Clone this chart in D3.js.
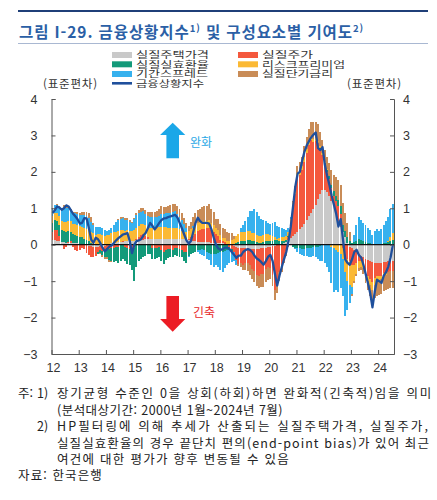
<!DOCTYPE html>
<html lang="ko">
<head>
<meta charset="utf-8">
<script src="https://cdn.jsdelivr.net/npm/d3@7"></script>
<style>
  body { margin: 0; background: #fff; }
  svg { display: block; font-family: "Noto Sans CJK KR", "Noto Sans", sans-serif; }
  .axis text { font-family: "Liberation Sans", Arial, sans-serif; font-size: 12.5px; fill: #333; }
  .axis path, .axis line { stroke: #555; }
</style>
</head>
<body>
<svg id="canvas" width="437" height="500"></svg>
<script>
// monthly data, 2012.1 ~ 2024.7
let months = d3.range(151);
let yearLabels = ['12', '13', '14', '15', '16', '17', '18', '19', '20', '21', '22', '23', '24'];
let yTicks = [-3, -2, -1, 0, 1, 2, 3, 4];

let seriesNames = ['실질주택가격', '실질주가', '실질실효환율', '리스크프리미엄', '기간스프레드', '실질단기금리'];
let seriesColors = ['#c9c9c9', '#f4583d', '#139a7a', '#fbb934', '#36b1ee', '#c98c57'];

let housePrice = [
  0.12, 0.12, 0.1, 0.1, 0.08, 0.08, 0.06, 0.06, 0.05, 0.05, 0.04, 0.04,
  0.03, 0.02, 0.0, -0.02, -0.03, -0.04, -0.05, -0.05, -0.05, -0.04, -0.04, -0.04,
  0.02, 0.03, 0.04, 0.05, 0.06, 0.07, 0.08, 0.08, 0.09, 0.1, 0.1, 0.1,
  0.1, 0.12, 0.12, 0.13, 0.14, 0.15, 0.15, 0.15, 0.15, 0.15, 0.15, 0.15,
  0.15, 0.15, 0.15, 0.15, 0.16, 0.16, 0.17, 0.17, 0.17, 0.16, 0.16, 0.15,
  0.12, 0.1, 0.1, 0.1, 0.08, 0.08, 0.08, 0.08, 0.07, 0.07, 0.06, 0.06,
  0.05, 0.05, 0.04, 0.04, 0.03, 0.02, 0.0, -0.02, -0.04, -0.06, -0.08, -0.1,
  -0.1, -0.1, -0.1, -0.12, -0.12, -0.12, -0.12, -0.12, -0.1, -0.1, -0.08, -0.06,
  -0.05, -0.04, -0.03, -0.02, 0.0, 0.02, 0.05, 0.08, 0.12, 0.18, 0.24, 0.3,
  0.36, 0.42, 0.5, 0.58, 0.68, 0.78, 0.88, 0.98, 1.1, 1.25, 1.4, 1.5,
  1.5, 1.45, 1.35, 1.2, 1.05, 0.85, 0.65, 0.5, 0.35, 0.2, 0.05, -0.05,
  -0.1, -0.15, -0.2, -0.25, -0.3, -0.35, -0.4, -0.42, -0.45, -0.48, -0.5, -0.5,
  -0.5, -0.5, -0.48, -0.48, -0.46, -0.45, -0.45
];
let stockPrice = [
  0.22, 0.28, 0.3, 0.15, 0.0, -0.12, -0.05, 0.02, 0.05, -0.05, -0.15, -0.18,
  -0.15, -0.1, -0.12, -0.2, -0.25, -0.3, -0.28, -0.25, -0.15, -0.1, -0.12, -0.15,
  -0.1, -0.12, -0.1, -0.08, -0.05, -0.05, 0.0, 0.02, -0.05, -0.1, -0.12, -0.15,
  -0.1, 0.05, 0.1, 0.15, 0.15, 0.1, 0.05, 0.0, -0.1, -0.1, -0.08, -0.05,
  -0.15, -0.2, -0.15, -0.12, -0.12, -0.15, -0.1, -0.1, -0.12, -0.15, -0.2, -0.2,
  0.05, 0.1, 0.15, 0.2, 0.3, 0.32, 0.35, 0.35, 0.38, 0.4, 0.35, 0.3,
  0.25, 0.2, 0.1, 0.05, 0.05, 0.0, -0.05, -0.1, -0.15, -0.35, -0.45, -0.4,
  -0.45, -0.4, -0.4, -0.45, -0.55, -0.6, -0.7, -0.75, -0.7, -0.7, -0.6, -0.55,
  -0.6, -0.8, -1.2, -1.0, -0.75, -0.55, -0.35, -0.2, 0.1, 0.4, 0.8, 1.1,
  1.45, 1.5, 1.55, 1.7, 1.85, 1.95, 2.0, 1.85, 1.75, 1.55, 1.25, 0.95,
  0.7, 0.55, 0.45, 0.35, 0.3, 0.35, 0.4, 0.35, -0.1, -0.3, -0.4, -0.4,
  -0.45, -0.4, -0.3, -0.2, -0.15, -0.2, -0.35, -0.45, -0.5, -0.55, -0.4, -0.35,
  -0.35, -0.35, -0.3, -0.3, -0.3, -0.28, -0.28
];
let exchangeRate = [
  0.25, 0.28, 0.25, 0.3, 0.32, 0.3, 0.28, 0.3, 0.26, 0.25, 0.22, 0.2,
  0.18, 0.18, 0.15, 0.12, 0.1, 0.05, 0.02, 0.0, -0.05, -0.08, -0.12, -0.15,
  -0.25, -0.3, -0.35, -0.4, -0.4, -0.45, -0.45, -0.4, -0.4, -0.42, -0.45, -0.55,
  -0.9, -0.6, -0.45, -0.4, -0.35, -0.3, -0.25, -0.25, -0.3, -0.3, -0.28, -0.3,
  -0.3, -0.32, -0.28, -0.25, -0.22, -0.2, -0.18, -0.2, -0.22, -0.2, -0.25, -0.3,
  -0.3, -0.25, -0.22, -0.2, -0.15, -0.15, -0.12, -0.15, -0.2, -0.22, -0.25, -0.25,
  -0.25, -0.22, -0.2, -0.2, -0.18, -0.15, -0.1, -0.05, 0.0, 0.05, 0.08, 0.1,
  0.1, 0.1, 0.12, 0.12, 0.1, 0.1, 0.08, 0.05, 0.05, 0.08, 0.1, 0.1,
  0.1, 0.1, 0.12, 0.12, 0.1, 0.08, 0.05, 0.05, 0.02, 0.0, -0.05, -0.08,
  -0.1, -0.1, -0.12, -0.12, -0.1, -0.1, -0.08, -0.06, -0.05, -0.05, -0.04, 0.02,
  0.03, 0.05, 0.08, 0.1, 0.12, 0.15, 0.18, 0.2, 0.2, 0.18, 0.15, 0.1,
  0.05, 0.08, 0.1, 0.15, 0.12, 0.1, 0.08, 0.05, 0.05, 0.03, 0.03, 0.02,
  0.02, 0.03, 0.05, 0.05, 0.08, 0.1, 0.12
];
let riskPremium = [
  0.2, 0.2, 0.22, 0.25, 0.25, 0.25, 0.28, 0.28, 0.28, 0.28, 0.3, 0.3,
  0.3, 0.3, 0.32, 0.32, 0.32, 0.3, 0.3, 0.28, 0.3, 0.3, 0.28, 0.25,
  0.25, 0.25, 0.27, 0.3, 0.3, 0.32, 0.32, 0.3, 0.3, 0.3, 0.28, 0.28,
  0.3, 0.3, 0.3, 0.28, 0.28, 0.28, 0.3, 0.32, 0.32, 0.32, 0.34, 0.35,
  0.35, 0.35, 0.33, 0.32, 0.3, 0.3, 0.3, 0.28, 0.25, 0.22, 0.2, 0.2,
  0.2, 0.22, 0.22, 0.22, 0.22, 0.22, 0.22, 0.22, 0.2, 0.2, 0.18, 0.18,
  0.15, 0.15, 0.12, 0.1, 0.1, 0.08, 0.1, 0.12, 0.15, 0.2, 0.22, 0.25,
  0.25, 0.25, 0.25, 0.25, 0.22, 0.22, 0.2, 0.2, 0.2, 0.2, 0.2, 0.2,
  0.18, 0.15, 0.1, 0.05, 0.08, 0.1, 0.12, 0.12, 0.12, 0.12, 0.12, 0.12,
  0.15, 0.15, 0.12, 0.12, 0.1, 0.1, 0.1, 0.08, 0.08, 0.06, 0.05, 0.05,
  0.03, 0.02, 0.0, -0.05, -0.1, -0.15, -0.2, -0.25, -0.3, -0.45, -0.6, -0.65,
  -0.6, -0.45, -0.3, -0.2, -0.15, -0.1, -0.1, -0.12, -0.15, -0.2, -0.2, -0.18,
  -0.15, -0.1, -0.08, -0.05, 0.02, 0.12, 0.2
];
let termSpread = [
  0.2, 0.2, 0.22, 0.22, 0.3, 0.4, 0.38, 0.35, 0.3, 0.28, 0.3, 0.3,
  0.3, 0.32, 0.35, 0.35, 0.32, 0.28, 0.22, 0.2, 0.2, 0.2, 0.18, 0.15,
  0.1, 0.12, 0.15, 0.2, 0.25, 0.28, 0.3, 0.32, 0.3, 0.28, 0.25, 0.22,
  0.3, 0.35, 0.35, 0.35, 0.35, 0.3, 0.28, 0.3, 0.3, 0.28, 0.28, 0.3,
  0.35, 0.35, 0.38, 0.4, 0.42, 0.45, 0.45, 0.4, 0.35, 0.3, 0.2, 0.1,
  -0.05, 0.0, 0.05, 0.05, -0.05, -0.1, -0.15, -0.15, -0.2, -0.2, -0.3, -0.35,
  -0.3, -0.4, -0.5, -0.55, -0.45, -0.4, -0.35, -0.3, -0.25, -0.15, 0.0, 0.1,
  0.2, 0.3, 0.4, 0.55, 0.6, 0.65, 0.62, 0.55, 0.45, 0.4, 0.35, 0.3,
  0.3, 0.35, 0.4, 0.35, 0.3, 0.25, 0.2, 0.15, 0.1, 0.05, 0.0, -0.05,
  -0.1, -0.15, -0.15, -0.2, -0.2, -0.25, -0.25, -0.25, -0.3, -0.35, -0.4, -0.45,
  -0.5, -0.6, -0.75, -1.0, -1.2, -1.1, -1.1, -0.95, -1.0, -1.2, -0.8, -0.5,
  -0.2, 0.2, 0.45, 0.6, 0.55, 0.5, 0.45, 0.4, 0.35, 0.25, 0.35, 0.4,
  0.35, 0.4, 0.5, 0.6, 0.65, 0.75, 0.8
];
let shortRate = [
  0.02, 0.02, 0.02, 0.03, 0.05, 0.05, 0.08, 0.06, 0.04, 0.04, 0.05, 0.05,
  0.06, 0.08, 0.08, 0.12, 0.14, 0.12, 0.06, 0.02, 0.0, -0.03, -0.05, -0.06,
  -0.05, -0.05, -0.03, 0.0, 0.02, 0.03, 0.05, 0.05, 0.05, 0.05, 0.04, 0.03,
  0.02, 0.05, 0.08, 0.1, 0.1, 0.12, 0.12, 0.12, 0.14, 0.15, 0.15, 0.18,
  0.2, 0.18, 0.18, 0.2, 0.22, 0.22, 0.2, 0.2, 0.2, 0.2, 0.18, 0.15,
  0.15, 0.2, 0.25, 0.3, 0.35, 0.35, 0.38, 0.4, 0.42, 0.45, 0.4, 0.35,
  0.25, 0.3, 0.3, 0.28, 0.25, 0.25, 0.22, 0.2, 0.1, 0.0, -0.05, -0.1,
  -0.15, -0.2, -0.22, -0.25, -0.28, -0.3, -0.3, -0.32, -0.35, -0.35, -0.35, -0.35,
  -0.3, -0.28, -0.3, -0.3, -0.25, -0.2, -0.15, -0.1, -0.05, 0.0, 0.05, 0.08,
  0.2, 0.2, 0.25, 0.3, 0.32, 0.35, 0.4, 0.45, 0.45, 0.45, 0.4, 0.35,
  0.35, 0.35, 0.35, 0.4, 0.45, 0.5, 0.55, 0.6, 0.6, 0.5, 0.4, 0.25,
  -0.05, -0.05, -0.05, -0.08, -0.1, -0.15, -0.2, -0.25, -0.3, -0.35, -0.35, -0.38,
  -0.38, -0.4, -0.42, -0.42, -0.45, -0.45, -0.45
];
// 금융상황지수
let fciIndex = [
  0.87, 0.95, 1.05, 1.02, 0.96, 1.0, 1.08, 1.05, 0.95, 0.85, 0.78, 0.7,
  0.58, 0.6, 0.73, 0.72, 0.45, 0.14, 0.05, 0.19, 0.15, 0.05, -0.08, -0.18,
  -0.12, -0.05, -0.02, 0.05, 0.12, 0.18, 0.23, 0.28, 0.3, 0.32, 0.1, -0.23,
  0.0, 0.1, 0.12, 0.15, 0.25, 0.32, 0.45, 0.6, 0.52, 0.42, 0.5, 0.6,
  0.68, 0.72, 0.73, 0.76, 0.78, 0.8, 0.82, 0.75, 0.6, 0.45, 0.28, 0.12,
  0.03, 0.1, 0.35, 0.6, 0.74, 0.65, 0.6, 0.6, 0.6, 0.58, 0.42, 0.2,
  0.0, -0.1, -0.14, -0.12, -0.08, -0.08, -0.12, -0.2, -0.28, -0.36, -0.3, -0.3,
  -0.2, -0.15, -0.12, -0.14, -0.2, -0.3, -0.38, -0.42, -0.48, -0.55, -0.45, -0.33,
  -0.28, -0.45, -0.8, -1.12, -0.85, -0.62, -0.4, -0.2, 0.1, 0.5, 1.05, 1.6,
  1.95, 2.0, 2.3, 2.55, 2.72, 2.84, 2.95, 3.02, 3.08, 2.65, 2.6, 2.68,
  2.2, 1.9, 1.65, 1.35, 1.1, 0.85, 0.5, 0.7, 0.15, -0.4, -0.5, -0.55,
  -0.4, -0.2, -0.14, -0.28, -0.35, -0.55, -0.8, -1.05, -1.33, -1.72, -1.3, -0.96,
  -1.0, -1.05, -0.85, -0.75, -0.6, -0.35, 0.0
];

let seriesValues = [housePrice, stockPrice, exchangeRate, riskPremium, termSpread, shortRate];

let svg = d3.select('#canvas');

let plotLeft = 51.5, plotRight = 394, plotTop = 99, plotBottom = 354;

let x = d3.scaleBand().domain(months).range([plotLeft, plotRight]);
let xMonth = d3.scaleLinear().domain([0, months.length]).range([plotLeft, plotRight]);
let y = d3.scaleLinear().domain([-3, 4]).range([plotBottom, plotTop]);

// top rules and title
svg.append('line').attr('x1', 18).attr('x2', 428).attr('y1', 11).attr('y2', 11)
  .attr('stroke', '#1f3f78').attr('stroke-width', 2);
svg.append('line').attr('x1', 18).attr('x2', 428).attr('y1', 43.5).attr('y2', 43.5)
  .attr('stroke', '#a9b8d2').attr('stroke-width', 1);

let title = svg.append('text').attr('x', 19).attr('y', 37.5)
  .attr('fill', '#2b5fa6').attr('font-size', 15.5).attr('font-weight', 700);
title.append('tspan').text('그림 I-29. 금융상황지수');
title.append('tspan').attr('font-size', 9.5).attr('dy', -6).text('1)');
title.append('tspan').attr('dy', 6).text(' 및 구성요소별 기여도');
title.append('tspan').attr('font-size', 9.5).attr('dy', -6).text('2)');

let fitWidth = (sel, target) => {
  let node = sel.node();
  let w = node.getComputedTextLength();
  let n = node.textContent.length;
  sel.attr('letter-spacing', (target - w) / n);
};
fitWidth(title, 345);

// legend (tight rows as in the original; glyphs stretched to the printed width)
let legendRows = [55, 64.3, 74, 83.3];
let legendPos = [[112, 0], [238, 0], [112, 1], [238, 1], [112, 2], [238, 2]];
let legendWidths = [73, 51, 73, 83, 72, 71];
let legendText = (lx, ly, str, w) => {
  svg.append('text').attr('x', lx).attr('y', ly + 3.3).attr('font-size', 9)
    .attr('textLength', w).attr('lengthAdjust', 'spacingAndGlyphs')
    .attr('fill', '#333').text(str);
};
seriesNames.forEach((name, k) => {
  let lx = legendPos[k][0];
  let ly = legendRows[legendPos[k][1]];
  svg.append('rect').attr('x', lx).attr('y', ly - 3).attr('width', 20).attr('height', 6)
    .attr('fill', seriesColors[k]);
  legendText(lx + 24, ly, name, legendWidths[k]);
});
svg.append('line').attr('x1', 112).attr('x2', 132).attr('y1', legendRows[3]).attr('y2', legendRows[3])
  .attr('stroke', '#1f4f9c').attr('stroke-width', 2.6);
legendText(136, legendRows[3], '금융상황지수', 68);

svg.append('text').attr('x', 43).attr('y', 87.5).attr('font-size', 11.5)
  .attr('letter-spacing', 0.8).attr('fill', '#333').text('(표준편차)');
svg.append('text').attr('x', 347).attr('y', 87.5).attr('font-size', 11.5)
  .attr('letter-spacing', 0.8).attr('fill', '#333').text('(표준편차)');

// stacked bars
let rows = months.map((m) => {
  let row = { m: m };
  seriesNames.forEach((name, k) => { row[name] = seriesValues[k][m]; });
  return row;
});
let stacked = d3.stack().keys(seriesNames).offset(d3.stackOffsetDiverging)(rows);

svg.append('g')
  .selectAll('g')
  .data(stacked)
  .join('g')
  .attr('fill', (d, k) => seriesColors[k])
  .selectAll('rect')
  .data((d) => d)
  .join('rect')
  .attr('shape-rendering', 'crispEdges')
  .attr('x', (d) => x(d.data.m))
  .attr('width', x.bandwidth() - 0.3)
  .attr('y', (d) => y(Math.max(d[0], d[1])))
  .attr('height', (d) => Math.abs(y(d[0]) - y(d[1])));

// zero line
svg.append('line').attr('x1', plotLeft).attr('x2', plotRight).attr('y1', y(0)).attr('y2', y(0))
  .attr('stroke', '#111').attr('stroke-width', 1.2);

// index line
svg.append('path')
  .datum(fciIndex)
  .attr('fill', 'none')
  .attr('stroke', '#1f4f9c')
  .attr('stroke-width', 2.3)
  .attr('stroke-linejoin', 'round')
  .attr('d', d3.line().x((d, i) => x(i) + x.bandwidth() / 2).y((d) => y(d)));

// axes
let fmt = d3.format('d');
svg.append('g').attr('class', 'axis').attr('transform', `translate(${plotLeft},0)`)
  .call(d3.axisLeft(y).tickValues(yTicks).tickFormat(fmt).tickSize(-4).tickSizeOuter(-4).tickPadding(14));
svg.append('g').attr('class', 'axis').attr('transform', `translate(${plotRight},0)`)
  .call(d3.axisRight(y).tickValues(yTicks).tickFormat(fmt).tickSize(-4).tickSizeOuter(-4).tickPadding(9));
svg.append('g').attr('class', 'axis').attr('transform', `translate(0,${plotBottom})`)
  .call(d3.axisBottom(xMonth).tickValues(d3.range(0, 145, 12))
    .tickFormat((m) => yearLabels[m / 12]).tickSize(-4).tickSizeOuter(0).tickPadding(9))
  .selectAll('text').attr('dx', 1.5);

// arrows
let arrow = (cx, tail, headBase, tip, color) => {
  let p = d3.path();
  p.moveTo(cx - 6.3, tail);
  p.lineTo(cx - 6.3, headBase);
  p.lineTo(cx - 12.6, headBase);
  p.lineTo(cx, tip);
  p.lineTo(cx + 12.6, headBase);
  p.lineTo(cx + 6.3, headBase);
  p.lineTo(cx + 6.3, tail);
  p.closePath();
  svg.append('path').attr('d', p.toString()).attr('fill', color);
};
arrow(172.7, 158.3, 135, 122.7, '#1ba7e8');
arrow(172.7, 296, 319, 331.7, '#ec1c24');
svg.append('text').attr('x', 190).attr('y', 146.5).attr('font-size', 12)
  .attr('fill', '#2aa8e6').text('완화');
svg.append('text').attr('x', 193).attr('y', 316.5).attr('font-size', 12)
  .attr('fill', '#e8262a').text('긴축');

// notes
let notes = svg.append('g').attr('font-size', 12.5).attr('fill', '#222');
let noteLine = (tx, ty, str, target) => {
  let t = notes.append('text').attr('x', tx).attr('y', ty).text(str);
  if (target) fitWidth(t, target);
};
noteLine(18, 397.8, '주:');
noteLine(37, 397.8, '1)');
noteLine(57, 397.8, '장기균형 수준인 0을 상회(하회)하면 완화적(긴축적)임을 의미', 376);
noteLine(57, 414.5, '(분석대상기간: 2000년 1월~2024년 7월)', 226);
noteLine(37, 431.2, '2)');
noteLine(57, 431.2, 'HP필터링에 의해 추세가 산출되는 실질주택가격, 실질주가,', 373);
noteLine(57, 447.9, '실질실효환율의 경우 끝단치 편의(end-point bias)가 있어 최근', 373);
noteLine(57, 464.2, '여건에 대한 평가가 향후 변동될 수 있음', 233);
noteLine(18, 479.8, '자료: 한국은행', 85);
</script>
</body>
</html>
